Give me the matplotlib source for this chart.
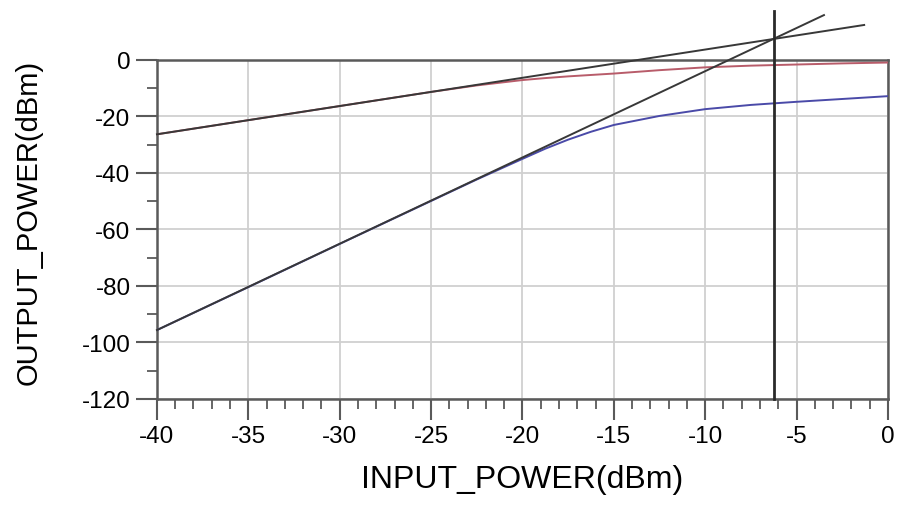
import numpy as np
import matplotlib
matplotlib.use("Agg")
import matplotlib.pyplot as plt
from matplotlib.ticker import MultipleLocator

plt.rcParams['font.family'] = ['Liberation Sans', 'DejaVu Sans']
plt.rcParams['axes.unicode_minus'] = False

# swept input power and simulated outputs
input_power = [-40, -35, -30, -25, -22.5, -20, -18.75, -17.5, -16.25, -15, -12.5, -10, -7.5, -5, -2.5, 0]
fund_out = [-26.3, -21.3, -16.3, -11.3, -9.0, -7.1, -6.4, -5.8, -5.3, -4.8, -3.6, -2.6, -2.0, -1.6, -1.2, -0.9]
im3_out = [-95.6, -80.4, -65.1, -49.9, -42.3, -35.0, -31.4, -28.2, -25.4, -23.0, -19.8, -17.4, -15.9, -14.8, -13.8, -12.8]

# linear extrapolations (endpoints) and intercept marker
fund_fit_x = [-40, -1.3]
fund_fit_y = [-26.3, 12.4]
im3_fit_x = [-40, -3.5]
im3_fit_y = [-95.6, 15.9]
ip3_x = -6.25
ip3_marker_y = [-120, 17.5]

fig = plt.figure(figsize=(9.02, 5.1), dpi=100)
ax = fig.add_axes([0.174, 0.2157, 0.8104, 0.6647])

ax.plot(input_power, fund_out, color='#b85c6a', lw=1.4, zorder=3)
ax.plot(input_power, im3_out, color='#4a4aa8', lw=1.4, zorder=3)
ax.plot(fund_fit_x, fund_fit_y, color='#383838', lw=1.4, zorder=4, clip_on=False)
ax.plot(im3_fit_x, im3_fit_y, color='#383838', lw=1.4, zorder=4, clip_on=False)
ax.plot([ip3_x, ip3_x], ip3_marker_y, color='#2a2a2a', lw=2.0, zorder=5, clip_on=False)

ax.set_xlim(-40, 0)
ax.set_ylim(-120, 0)
ax.xaxis.set_major_locator(MultipleLocator(5))
ax.xaxis.set_minor_locator(MultipleLocator(1))
ax.yaxis.set_major_locator(MultipleLocator(20))
ax.yaxis.set_minor_locator(MultipleLocator(10))

ax.grid(True, which='major', color='#d0d0d0', lw=1.3)
ax.set_axisbelow(True)
for s in ax.spines.values():
    s.set_color('#5a5a5a')
    s.set_linewidth(1.8)

ax.tick_params(which='major', length=15, width=1.5, color='#5a5a5a', labelsize=17.5, pad=4)
ax.tick_params(which='minor', length=7, width=1.3, color='#5a5a5a')

ax.set_xlabel('INPUT_POWER(dBm)', fontsize=23, labelpad=12)
ax.set_ylabel('OUTPUT_POWER(dBm)', fontsize=21)
ax.yaxis.set_label_coords(-0.157, 0.525)

fig.savefig('out.png', dpi=100)
